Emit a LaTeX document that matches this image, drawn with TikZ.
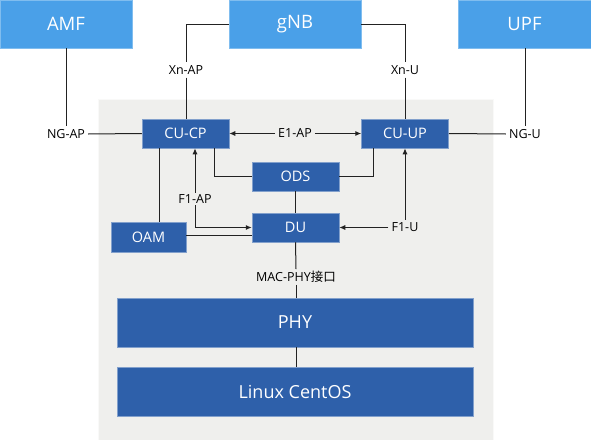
\documentclass[tikz,border=0pt]{standalone}
\usepackage{fontspec}
\setmainfont{Open Sans}
\newfontfamily\cjk{Noto Sans CJK SC}
\usetikzlibrary{arrows.meta,calc}
\definecolor{topblue}{RGB}{74,160,232}
\definecolor{boxblue}{RGB}{46,96,170}
\definecolor{panel}{RGB}{239,239,237}
\definecolor{linec}{RGB}{34,34,34}
\tikzset{
  topbox/.style={fill=topblue,draw=topblue!70!white,line width=0.5pt,text=white,font=\fontsize{18.5}{20}\selectfont,inner sep=0pt},
  inbox/.style={fill=boxblue,draw=boxblue!60!white,line width=0.5pt,text=white,font=\fontsize{14.5}{16}\selectfont,inner sep=0pt,minimum width=87pt,minimum height=29pt},
  bigbox/.style={fill=boxblue,draw=boxblue!60!white,line width=0.5pt,text=white,font=\fontsize{18}{20}\selectfont,inner sep=0pt,minimum width=356pt,minimum height=49pt},
  lab/.style={font=\fontsize{12.5}{13}\selectfont,inner sep=3pt,text=black},
  conn/.style={draw=linec,line width=1pt},
  arr/.style={-{Latex[length=6pt,width=5pt]}}
}
\begin{document}
\begin{tikzpicture}[x=1pt,y=-1pt]
\useasboundingbox (0,0) rectangle (591,439);
% panel
\fill[panel] (98,99) rectangle (493,440);
\draw[white!60!panel,line width=0.8pt] (98,440) -- (98,99) -- (493,99) -- (493,440);
% top boxes
\node[topbox,minimum width=132pt,minimum height=48pt] (amf) at (66,24) {AMF};
\node[topbox,minimum width=132pt,minimum height=48pt] (gnb) at (295,24) {gNB};
\node[topbox,minimum width=133pt,minimum height=48pt] (upf) at (524.5,24) {UPF};
% inner boxes
\node[inbox] (cucp) at (185.5,133.5) {CU-CP};
\node[inbox] (cuup) at (405,133.5) {CU-UP};
\node[inbox] (ods) at (295.5,176.5) {ODS};
\node[inbox] (du) at (295.5,227.5) {DU};
\node[inbox,minimum width=75pt,minimum height=30pt] (oam) at (148.5,237) {OAM};
\node[bigbox] (phy) at (295,322.5) {PHY};
\node[bigbox] (linux) at (295,391.5) {Linux CentOS};
% labels
\node[lab] (ngap) at (66,134) {NG-AP};
\node[lab] (xnap) at (186,70) {Xn-AP};
\node[lab] (xnu) at (405,70) {Xn-U};
\node[lab] (ngu) at (525,134) {NG-U};
\node[lab] (e1ap) at (295,133.5) {E1-AP};
\node[lab] (f1u) at (405,227.5) {F1-U};
\node[lab,inner sep=2pt] (mac) at (296,277) {MAC-PHY{\cjk 接口}};
% connectors
\draw[conn] (amf.south) -- (ngap.north);
\draw[conn] (ngap.east) -- (cucp.west);
\draw[conn] (gnb.west) -| (xnap.north);
\draw[conn] (xnap.south) -- (xnap.south |- cucp.north);
\draw[conn] (gnb.east) -| (xnu.north);
\draw[conn] (xnu.south) -- (xnu.south |- cuup.north);
\draw[conn] (upf.south -| ngu) -- (ngu.north);
\draw[conn] (ngu.west) -- (cuup.east);
\draw[conn,arr] (e1ap.west) -- (cucp.east);
\draw[conn,arr] (e1ap.east) -- (cuup.west);
\draw[conn] ($(cucp.south)+(28.5,0)$) |- (ods.west);
\draw[conn] (ods.east) -| ($(cuup.south)+(-32,0)$);
\draw[conn] (ods.south) -- (du.north);
\draw[conn] ($(oam.north)+(10.5,0)$) -- ($(cucp.south)+(-26.5,0)$);
\draw[conn] ($(oam.east)+(0,-2)$) coordinate (o1) -- (o1 -| du.west);
\draw[conn,{Latex[length=6pt,width=5pt]}-{Latex[length=6pt,width=5pt]}] ($(cucp.south)+(9.5,0)$) |- (du.west);
\node[lab,fill=panel,inner sep=1.5pt] (f1ap) at (195,199) {F1-AP};
\draw[conn,arr] (f1u.north) -- (f1u.north |- cuup.south);
\draw[conn,arr] (f1u.west) -- (du.east);
\draw[conn] (du.south) -- (mac.north);
\draw[conn] (mac.south) -- (phy.north -| mac.south);
\draw[conn] (phy.south -| mac.south) -- (linux.north -| mac.south);
\end{tikzpicture}
\end{document}
